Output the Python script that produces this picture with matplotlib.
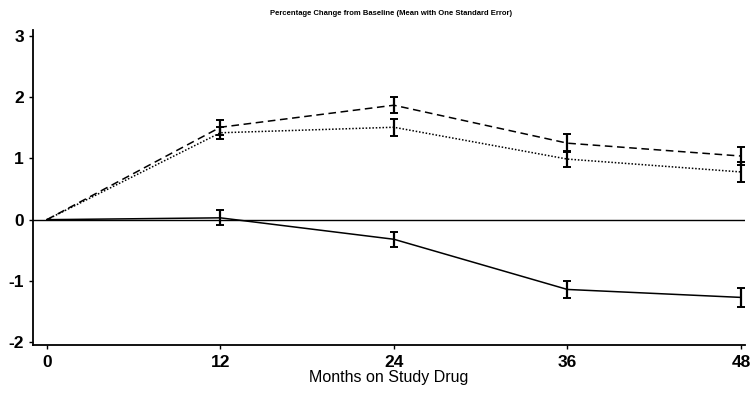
import numpy as np
import matplotlib.pyplot as plt

plt.rcParams['axes.unicode_minus'] = False
plt.rcParams['font.family'] = ['Liberation Sans', 'DejaVu Sans']

months = [0, 12, 24, 36, 48]

# mean percentage change and one standard error per visit
dashed_mean = [0.0, 1.51, 1.87, 1.25, 1.04]
dashed_se = [0.0, 0.12, 0.13, 0.15, 0.15]
dotted_mean = [0.0, 1.42, 1.51, 0.99, 0.78]
dotted_se = [0.0, 0.10, 0.14, 0.13, 0.16]
solid_mean = [0.0, 0.03, -0.32, -1.14, -1.27]
solid_se = [0.0, 0.12, 0.12, 0.14, 0.15]

yticks = [-2, -1, 0, 1, 2, 3]

fig = plt.figure(figsize=(7.52, 3.94), dpi=100)
ax = fig.add_axes([0.044, 0.124, 0.947, 0.80])

ax.axhline(0, color='black', lw=1.0, zorder=1)

series = [(dashed_mean, dashed_se, (0, (5, 3))),
          (dotted_mean, dotted_se, (0, (1, 1.2))),
          (solid_mean, solid_se, '-')]
for mean, se, ls in series:
    ax.plot(months, mean, color='black', lw=1.1, linestyle=ls, zorder=2)
    ax.errorbar(months[1:], mean[1:], yerr=se[1:], fmt='none', ecolor='black',
                elinewidth=1.6, capsize=3, capthick=1.4, zorder=3)

ax.set_xlim(-0.95, 48.3)
ax.set_ylim(-2.05, 3.1)
ax.set_xticks(months)
ax.set_yticks(yticks)
ax.tick_params(axis='both', direction='out', length=3, width=1, colors='black')
ax.tick_params(axis='x', pad=4)
for lbl in ax.get_xticklabels() + ax.get_yticklabels():
    lbl.set_fontweight('bold')
    lbl.set_fontsize(12.5)

for side in ['top', 'right']:
    ax.spines[side].set_visible(False)
for side in ['left', 'bottom']:
    ax.spines[side].set_linewidth(1.3)

ax.set_xlabel('Months on Study Drug', fontsize=11.5, labelpad=0)
fig.text(0.52, 0.965, 'Percentage Change from Baseline (Mean with One Standard Error)',
         ha='center', va='center', fontsize=5.5, fontweight='bold')

fig.savefig('out.png', dpi=100)
